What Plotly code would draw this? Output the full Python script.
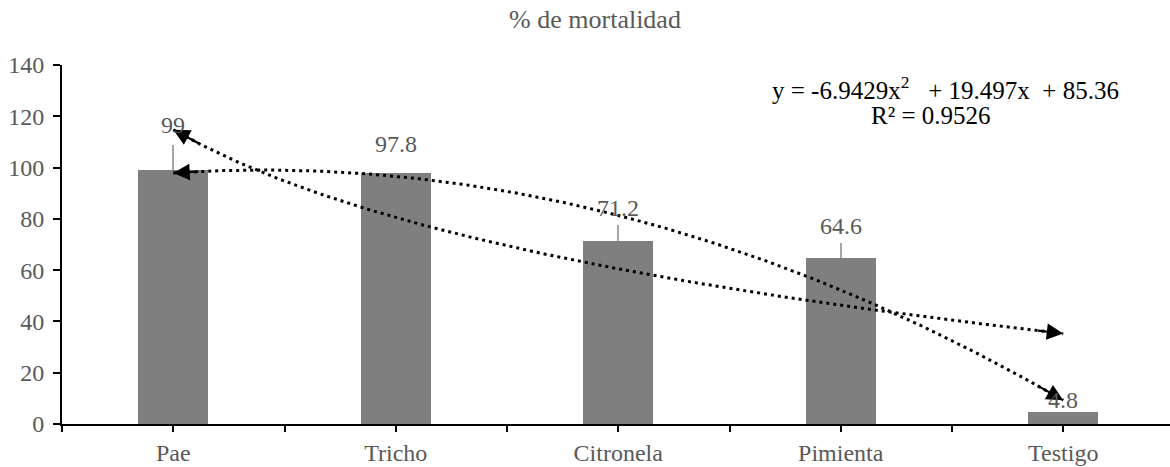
import numpy as np
import plotly.graph_objects as go

# ---- data ----
categories = ["Pae", "Tricho", "Citronela", "Pimienta", "Testigo"]
mortality = [99, 97.8, 71.2, 64.6, 4.8]
error_up = [9.8, 0, 6.4, 6.0, 0]
y_ticks = [0, 20, 40, 60, 80, 100, 120, 140]
equation_line1 = "y = -6.9429x<sup>2</sup>&nbsp;&nbsp; + 19.497x&nbsp; + 85.36"
equation_line2 = "R² = 0.9526"
title_text = "% de mortalidad"

# ---- styles / layout ----
FONT = "Liberation Serif, Times New Roman, serif"
label_shift = [34, 18, 22, 21, 1]
PLOT_L, PLOT_T, PLOT_B = 62, 65, 424          # target page pixels
FIG_W, FIG_H = 1170, 467
plot_w = FIG_W - PLOT_L                        # right margin 0
plot_h = PLOT_B - PLOT_T

def px_to_paper_x(px):
    return (px - PLOT_L) / plot_w

def px_to_paper_y(py):
    return (PLOT_B - py) / plot_h

xpos = np.arange(1, len(categories) + 1, dtype=float)
yv = np.array(mortality, dtype=float)

# trendlines computed from the data
poly = np.polyfit(xpos, yv, 2)
logc = np.polyfit(np.log(xpos), yv, 1)
xs = np.linspace(xpos[0], xpos[-1], 200)
poly_y = np.polyval(poly, xs)
log_y = np.polyval(logc, np.log(xs))

x_lo = 0.5
unit_px = 222.5
x_hi = x_lo + plot_w / unit_px

fig = go.Figure()
fig.add_trace(go.Bar(
    x=xpos, y=yv, width=0.315, marker_color="#7f7f7f", marker_line_width=0,
    error_y=dict(type="data", symmetric=False, array=error_up,
                 arrayminus=[0] * len(error_up), color="#a6a6a6",
                 thickness=2, width=0),
    showlegend=False, hoverinfo="skip"))

dot = "3px,4px"
fig.add_trace(go.Scatter(x=xs, y=log_y, mode="lines",
                         line=dict(color="black", width=3, dash=dot),
                         showlegend=False, hoverinfo="skip"))
fig.add_trace(go.Scatter(x=xs, y=poly_y, mode="lines",
                         line=dict(color="black", width=3, dash=dot),
                         showlegend=False, hoverinfo="skip"))

annotations = []
# arrowheads at both ends of each trendline
for curve in (log_y, poly_y):
    for head, tail in ((0, 6), (-1, -7)):
        annotations.append(dict(
            x=xs[head], y=curve[head], ax=xs[tail], ay=curve[tail],
            xref="x", yref="y", axref="x", ayref="y",
            showarrow=True, arrowhead=2, arrowsize=1.5, arrowwidth=2.2,
            arrowcolor="black", standoff=0, startstandoff=0, text=""))

# data labels
for xv, v, s in zip(xpos, mortality, label_shift):
    annotations.append(dict(
        x=xv, y=v, xref="x", yref="y", text=f"{v:g}", showarrow=False,
        yanchor="bottom", yshift=s - 4,
        font=dict(family=FONT, size=24, color="#595959")))

# trendline equation
annotations.append(dict(
    x=px_to_paper_x(945), y=px_to_paper_y(88), xref="paper", yref="paper",
    xanchor="center", yanchor="middle", text=equation_line1, showarrow=False,
    font=dict(family=FONT, size=25, color="black")))
annotations.append(dict(
    x=px_to_paper_x(931), y=px_to_paper_y(116), xref="paper", yref="paper",
    xanchor="center", yanchor="middle", text=equation_line2, showarrow=False,
    font=dict(family=FONT, size=25, color="black")))

tick_pos = list(np.arange(0.5, 5.6, 0.5))
tick_txt = [("" if i % 2 == 0 else categories[i // 2]) for i in range(len(tick_pos))]

fig.update_layout(
    width=FIG_W, height=FIG_H,
    margin=dict(l=PLOT_L, r=0, t=PLOT_T, b=FIG_H - PLOT_B),
    paper_bgcolor="white", plot_bgcolor="white",
    font=dict(family=FONT, size=24, color="#595959"),
    title=dict(text=title_text, x=595 / FIG_W, xanchor="center",
               xref="container", yref="container",
               y=1 - 19 / FIG_H, yanchor="middle",
               font=dict(family=FONT, size=26, color="#595959")),
    bargap=0,
    xaxis=dict(range=[x_lo, x_hi], tickvals=tick_pos, ticktext=tick_txt,
               ticks="outside", ticklen=6, tickwidth=2, tickcolor="black",
               showline=True, linecolor="black", linewidth=2,
               showgrid=False, zeroline=False, fixedrange=True,
               automargin=False,
               tickfont=dict(family=FONT, size=24, color="#595959")),
    xaxis2=dict(range=[x_lo, x_hi], overlaying="x", anchor="y",
                tickvals=tick_pos, showticklabels=False,
                ticks="inside", ticklen=6, tickwidth=2, tickcolor="black",
                showline=False, showgrid=False, zeroline=False),
    yaxis=dict(range=[0, 140], tickvals=y_ticks,
               ticks="outside", ticklen=7, tickwidth=2, tickcolor="black",
               showline=True, linecolor="black", linewidth=2,
               showgrid=False, zeroline=False, ticklabelstandoff=4,
               automargin=False,
               tickfont=dict(family=FONT, size=24, color="#595959")),
    yaxis2=dict(range=[0, 140], overlaying="y", anchor="x",
                tickvals=y_ticks, showticklabels=False,
                ticks="inside", ticklen=7, tickwidth=2, tickcolor="black",
                showline=False, showgrid=False, zeroline=False),
    annotations=annotations,
)

fig.write_html("out.html",
               config={"displayModeBar": False},
               post_script="document.body.style.margin='0';")
